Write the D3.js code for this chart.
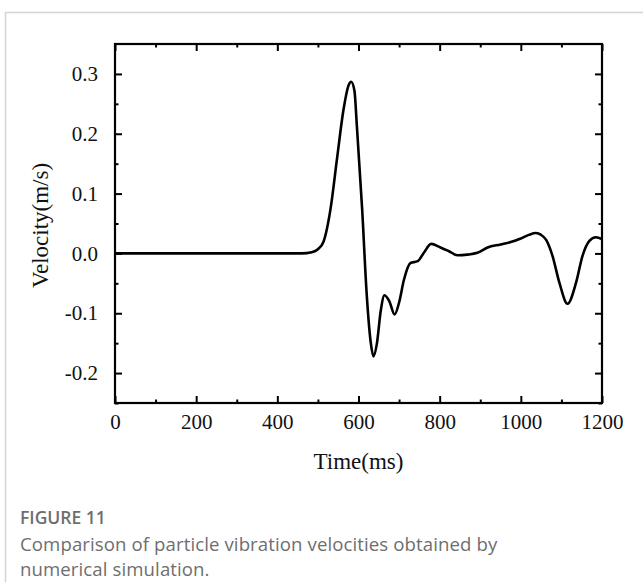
<!DOCTYPE html>
<html>
<head>
<meta charset="utf-8">
<script src="https://cdn.jsdelivr.net/npm/d3@7"></script>
<style>
  body { margin: 0; background: #fff; }
  svg { display: block; }
</style>
</head>
<body>
<div id="chart"></div>
<script>
// Time (ms) and velocity (m/s)
const timeMs = [0, 100, 200, 300, 400, 460, 485, 500, 514, 531, 547, 563, 575, 582, 590, 596,
  609, 620, 630, 637, 645, 655, 664, 676, 689, 700, 712, 728, 746, 761, 779, 802, 822, 844,
  868, 893, 918, 950, 975, 1000, 1020, 1037, 1050, 1062, 1078, 1095, 1115, 1136, 1152, 1169, 1185, 1200];
const velocity = [0, 0, 0, 0, 0, 0, 0.002, 0.007, 0.020, 0.074, 0.158, 0.240, 0.280, 0.287, 0.272, 0.213,
  0.074, -0.066, -0.148, -0.172, -0.152, -0.095, -0.070, -0.080, -0.102, -0.082, -0.044, -0.016, -0.013, 0.001, 0.016, 0.010, 0.004, -0.003,
  -0.002, 0.001, 0.010, 0.015, 0.019, 0.025, 0.031, 0.034, 0.031, 0.023, -0.004, -0.049, -0.084, -0.049, -0.004, 0.021, 0.027, 0.024];

const xTicks = [0, 200, 400, 600, 800, 1000, 1200];
const xMinor = [100, 300, 500, 700, 900, 1100];
const yTicks = [-0.2, -0.1, 0.0, 0.1, 0.2, 0.3];
const yMinor = [-0.25, -0.15, -0.05, 0.05, 0.15, 0.25];

const W = 643, H = 582;
const plot = { left: 115, right: 602, top: 44, bottom: 403 };
const serif = "'Liberation Serif', 'Times New Roman', serif";

const svg = d3.select("#chart").append("svg")
  .attr("width", W).attr("height", H);

// card border (left and top)
svg.append("line").attr("x1", 5.5).attr("x2", 5.5).attr("y1", 12).attr("y2", H)
  .attr("stroke", "#d4d4d4").attr("stroke-width", 1.5);
svg.append("line").attr("x1", 5).attr("x2", W).attr("y1", 12.5).attr("y2", 12.5)
  .attr("stroke", "#d4d4d4").attr("stroke-width", 1.5);

const x = d3.scaleLinear().domain([0, 1200]).range([plot.left, plot.right]);
const y = d3.scaleLinear().domain([-0.25, 0.35]).range([plot.bottom, plot.top]);

function styleAxis(g) {
  g.select(".domain").remove();
  g.selectAll(".tick line").attr("stroke", "#000").attr("stroke-width", 2);
}

// minor ticks on all four sides
svg.append("g").attr("transform", `translate(0,${plot.bottom})`)
  .call(d3.axisBottom(x).tickValues(xMinor).tickSize(-3.5).tickFormat("")).call(styleAxis);
svg.append("g").attr("transform", `translate(0,${plot.top})`)
  .call(d3.axisTop(x).tickValues(xMinor).tickSize(-3.5).tickFormat("")).call(styleAxis);
svg.append("g").attr("transform", `translate(${plot.left},0)`)
  .call(d3.axisLeft(y).tickValues(yMinor).tickSize(-3.5).tickFormat("")).call(styleAxis);
svg.append("g").attr("transform", `translate(${plot.right},0)`)
  .call(d3.axisRight(y).tickValues(yMinor).tickSize(-3.5).tickFormat("")).call(styleAxis);

// major ticks, mirrored on top and right
svg.append("g").attr("transform", `translate(0,${plot.top})`)
  .call(d3.axisTop(x).tickValues(xTicks).tickSize(-7).tickFormat("")).call(styleAxis);
svg.append("g").attr("transform", `translate(${plot.right},0)`)
  .call(d3.axisRight(y).tickValues(yTicks).tickSize(-7).tickFormat("")).call(styleAxis);

const xAxis = svg.append("g").attr("transform", `translate(0,${plot.bottom})`)
  .call(d3.axisBottom(x).tickValues(xTicks).tickSize(-7).tickPadding(11).tickFormat(d3.format("d")))
  .call(styleAxis);
const yAxis = svg.append("g").attr("transform", `translate(${plot.left},0)`)
  .call(d3.axisLeft(y).tickValues(yTicks).tickSize(-7).tickPadding(17)
    .tickFormat(d => d.toFixed(1).replace("\u2212", "-")))
  .call(styleAxis);

[xAxis, yAxis].forEach(g => g.selectAll(".tick text")
  .attr("font-family", serif).attr("font-size", 21).attr("fill", "#111"));

// frame
svg.append("rect")
  .attr("x", plot.left).attr("y", plot.top)
  .attr("width", plot.right - plot.left).attr("height", plot.bottom - plot.top)
  .attr("fill", "none").attr("stroke", "#000").attr("stroke-width", 2.2);

// curve
const line = d3.line()
  .x((d, i) => x(timeMs[i]))
  .y(d => y(d))
  .curve(d3.curveMonotoneX);

svg.append("path")
  .datum(velocity)
  .attr("fill", "none")
  .attr("stroke", "#000")
  .attr("stroke-width", 2.6)
  .attr("stroke-linejoin", "round")
  .attr("d", line);

// axis titles
svg.append("text")
  .attr("x", (plot.left + plot.right) / 2).attr("y", 469)
  .attr("text-anchor", "middle")
  .attr("font-family", serif).attr("font-size", 23).attr("fill", "#111")
  .text("Time(ms)");

svg.append("text")
  .attr("transform", `translate(48,${(plot.top + plot.bottom) / 2 + 2}) rotate(-90)`)
  .attr("text-anchor", "middle")
  .attr("font-family", serif).attr("font-size", 23).attr("fill", "#111")
  .text("Velocity(m/s)");

// caption
svg.append("text")
  .attr("x", 20).attr("y", 524)
  .attr("font-family", "'Open Sans', sans-serif")
  .attr("font-size", 17.5).attr("font-weight", 600).attr("fill", "#6e6e6e")
  .text("FIGURE 11");
const caption = svg.append("text")
  .attr("font-family", "'Open Sans', sans-serif")
  .attr("font-size", 18.6).attr("letter-spacing", 0.1).attr("fill", "#6e6e6e");
caption.append("tspan").attr("x", 20).attr("y", 551)
  .text("Comparison of particle vibration velocities obtained by");
caption.append("tspan").attr("x", 20).attr("y", 576)
  .text("numerical simulation.");
</script>
</body>
</html>
